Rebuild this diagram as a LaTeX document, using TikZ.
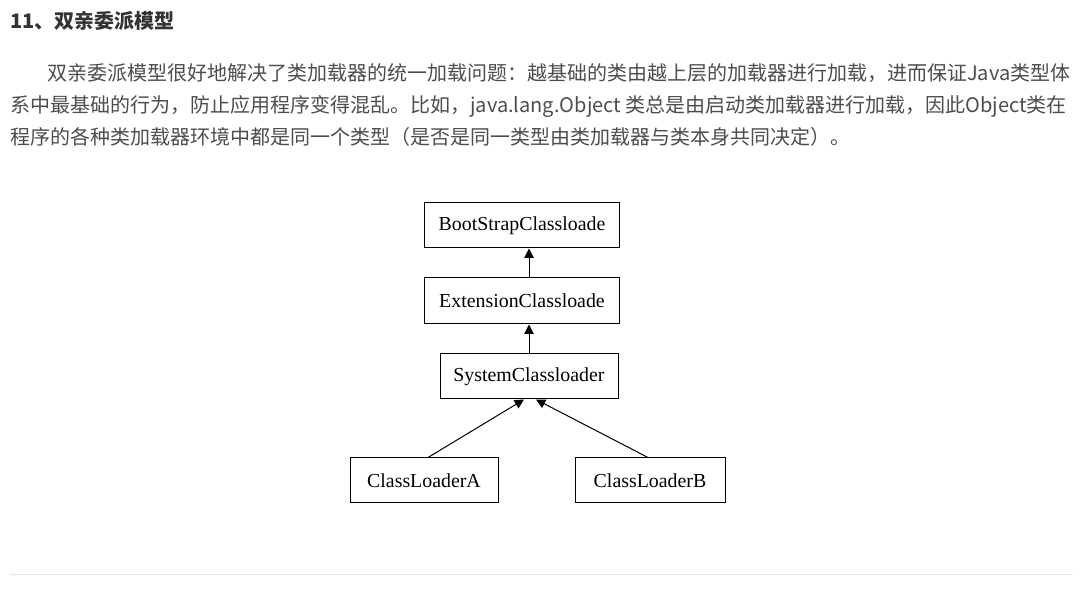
\documentclass[tikz,border=0pt]{standalone}
\usepackage{fontspec}
\setmainfont{Liberation Serif}
\newfontfamily\cjk{Noto Sans CJK SC}
\usetikzlibrary{arrows.meta,calc}
\definecolor{headc}{HTML}{333333}
\definecolor{bodyc}{HTML}{4D4D4D}
\definecolor{rulec}{HTML}{E4E4E4}
\begin{document}
\begin{tikzpicture}[x=0.75pt,y=-0.75pt,
  box/.style={draw=black,line width=0.75pt,inner sep=0pt,font=\fontsize{14.9}{16}\selectfont},
  para/.style={anchor=base west,inner sep=0pt,text=bodyc,font=\cjk\fontsize{15}{18}\selectfont},
  conn/.style={draw=black,line width=0.75pt,-{Triangle[length=7pt,width=7pt]}}]
\useasboundingbox[fill=white] (0,0) rectangle (1083,591);
\node[anchor=base west,inner sep=0pt,text=headc,font=\cjk\bfseries\fontsize{15}{18}\selectfont] (head) at (10,29) {11、双亲委派模型};
\node[para] (l1) at (47,81) {双亲委派模型很好地解决了类加载器的统一加载问题：越基础的类由越上层的加载器进行加载，进而保证Java类型体};
\node[para] (l2) at (10,113) {系中最基础的行为，防止应用程序变得混乱。比如，java.lang.Object 类总是由启动类加载器进行加载，因此Object类在};
\node[para] (l3) at (10,145) {程序的各种类加载器环境中都是同一个类型（是否是同一类型由类加载器与类本身共同决定）。};
\node[box,minimum width=146.25pt,minimum height=33.75pt] (boot) at (522,225.5) {BootStrapClassloade};
\node[box,minimum width=146.25pt,minimum height=34.5pt] (ext) at (522,301) {ExtensionClassloade};
\node[box,minimum width=133.5pt,minimum height=33.75pt] (sys) at (529,376.5) {SystemClassloader};
\node[box,minimum width=111pt,minimum height=33.75pt] (a) at (424,480.5) {ClassLoaderA};
\node[box,minimum width=112.5pt,minimum height=33.75pt] (b) at (650,480.5) {ClassLoaderB};
\draw[conn] (ext.north -| sys.north) -- (boot.south -| sys.north);
\draw[conn] (sys.north) -- (ext.south -| sys.north);
\coordinate (sa) at ($(sys.south)+(-5,0)$);
\coordinate (sb) at ($(sys.south)+(7,0)$);
\draw[conn] ($(a.north)+(4,0)$) -- (sa);
\draw[conn] ($(b.north)+(-2,0)$) -- (sb);
\draw[rulec,line width=0.75pt] (10,575) coordinate (r1) -- (1073,575) coordinate (r2);
\end{tikzpicture}
\end{document}
